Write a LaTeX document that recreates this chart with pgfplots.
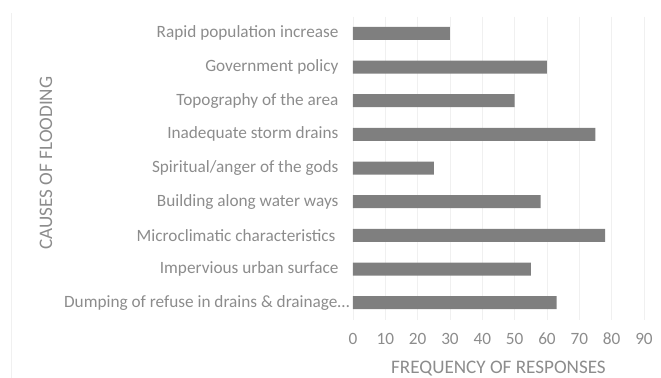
\documentclass[border=0pt]{standalone}
\usepackage{pgfplots}
\pgfplotsset{compat=1.18}
\usepackage{fontspec}
\setmainfont{Carlito}
\definecolor{barcol}{HTML}{7F7F7F}
\definecolor{txtcol}{HTML}{8C8C8C}
\definecolor{gridcol}{HTML}{F0F0F0}
\begin{document}
\begin{tikzpicture}
\useasboundingbox (-353bp,-58.5bp) rectangle (308bp,319.5bp);
\draw[color=gridcol, line width=0.8bp] (-342bp,-58.5bp) -- (-342bp,306.5bp);
\begin{axis}[
  at={(0,0)}, anchor=south west,
  scale only axis, width=291bp, height=303bp,
  xbar, bar width=13bp,
  xmin=0, xmax=90, ymin=-0.5, ymax=8.5,
  y dir=reverse,
  ytick={0,...,8},
  yticklabels={Rapid population increase, Government policy, Topography of the area, Inadequate storm drains, Spiritual/anger of the gods, Building along water ways, Microclimatic characteristics\kern3bp, Impervious urban surface, Dumping of refuse in drains \& drainage…\kern-11bp},
  xtick={0,10,...,90},
  axis line style={draw=none},
  major tick length=0pt,
  xmajorgrids, ymajorgrids=false,
  grid style={color=gridcol, line width=0.8bp},
  /pgf/number format/assume math mode=true,
  tick label style={font=\fontsize{17.3}{20}\selectfont, text=txtcol},
  xticklabel style={yshift=-10bp},
  yticklabel style={xshift=-11bp},
  label style={font=\fontsize{19.2}{22}\selectfont, text=txtcol},
  xlabel={FREQUENCY OF RESPONSES},
  ylabel={CAUSES OF FLOODING},
  xlabel style={at={(axis description cs:0.5,0)}, yshift=-49bp, anchor=center, inner sep=0pt},
  ylabel style={at={(axis description cs:0,0.5)}, yshift=307bp, xshift=5bp, anchor=center},
]
\addplot[fill=barcol, draw=none] coordinates {
  (30,0) (60,1) (50,2) (75,3) (25,4) (58,5) (78,6) (55,7) (63,8)
};
\end{axis}
\end{tikzpicture}
\end{document}
